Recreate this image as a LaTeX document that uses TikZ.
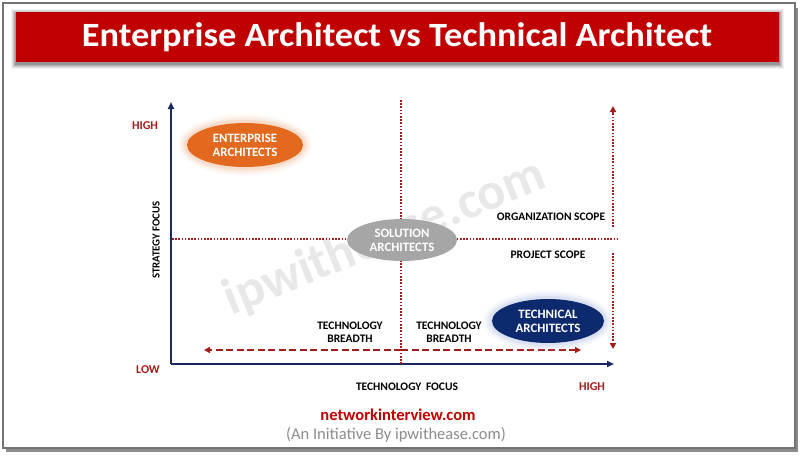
\documentclass[tikz,border=0pt]{standalone}
\usepackage{fontspec}
\setmainfont{Carlito}
\newfontfamily\titlefont{Carlito}[FakeStretch=1.07]
\usetikzlibrary{arrows.meta,shapes.geometric}
\definecolor{bannerred}{HTML}{C00000}
\definecolor{dred}{HTML}{A51C1C}
\definecolor{navy}{HTML}{1B2A5E}
\definecolor{orng}{HTML}{E2691E}
\definecolor{tnavy}{HTML}{0E2A6E}
\definecolor{sgray}{HTML}{A6A6A6}
\tikzset{
  lbl/.style={font=\bfseries\fontsize{11.5}{12.5}\selectfont, text=black, align=center, inner sep=0pt},
  axlbl/.style={font=\bfseries\fontsize{12}{13}\selectfont, text=dred, inner sep=0pt},
  axis/.style={draw=navy, line width=2pt, -{Triangle[length=7pt,width=6pt]}},
  dotline/.style={draw=dred, line width=2pt, dash pattern=on 1.6pt off 1.6pt},
  dotarrow/.style={dotline, -{Triangle[length=6pt,width=6pt]}},
  dasharrow/.style={draw=dred, line width=2pt, dash pattern=on 7pt off 3.5pt, -{Triangle[length=6pt,width=6pt]}},
  blob/.style={ellipse, inner sep=0pt, align=center, text=white, font=\bfseries\fontsize{12.8}{14}\selectfont},
}
\begin{document}
\begin{tikzpicture}[x=1pt,y=-1pt]
\useasboundingbox (0,0) rectangle (800,455);
\fill[white] (0,0) rectangle (800,455);
% outer frame with shadow
\fill[black!45] (6,8) rectangle (798,452);
\fill[white,draw=black!55,line width=1.2pt] (3,3) rectangle (795,448);
% title banner with soft shadow
\foreach \i/\o in {5/0.05,4/0.07,3/0.09,2/0.12,1/0.15}{
  \fill[black,opacity=\o] (16-\i,12-\i+2) rectangle (779+\i,62+\i+2);
}
\fill[bannerred] (16,12) rectangle (779,62);
\node[text=white, font=\titlefont\bfseries\fontsize{34}{38}\selectfont, inner sep=0pt] (title) at (397,37) {Enterprise Architect vs Technical Architect};
% watermark
\node[text=black!9, font=\bfseries\fontsize{52}{60}\selectfont, rotate=22, inner sep=0pt] (wm) at (385,238) {ipwithease.com};
% axes
\coordinate (origin) at (171,364);
\coordinate (ytop) at (171,102);
\coordinate (xright) at (614,364);
\draw[axis] (origin) -- (ytop);
\draw[axis] (origin) -- (xright);
% quadrant lines
\coordinate (vtop) at (401,100);
\coordinate (vbot) at (401,364);
\coordinate (hl) at (172,239);
\coordinate (hr) at (619,239);
\draw[dotline] (vtop) -- (vbot);
\draw[dotline] (hl) -- (hr);
% right scope arrows
\coordinate (su) at (613,227);
\coordinate (st) at (613,106);
\coordinate (sd) at (613,253);
\coordinate (sb) at (613,349);
\draw[dotarrow] (su) -- (st);
\draw[dotarrow] (sd) -- (sb);
% breadth arrows
\coordinate (bc) at (401,350);
\coordinate (bl) at (204,350);
\coordinate (br) at (581,350);
\draw[dasharrow] (bc) -- (bl);
\draw[dasharrow] (bc) -- (br);
% ellipses
\foreach \i/\o in {9/0.05,7/0.08,5/0.12,3/0.18}{
  \fill[orng!60,opacity=\o] (245,145) ellipse ({58+\i} and {22+\i});
}
\node[blob, fill=orng, minimum width=116pt, minimum height=44pt] (ea) at (245,145) {ENTERPRISE\\ARCHITECTS};
\node[blob, fill=sgray, minimum width=110pt, minimum height=42pt] (sa) at (402,240) {SOLUTION\\ARCHITECTS};
\foreach \i/\o in {9/0.06,7/0.10,5/0.15,3/0.22}{
  \fill[cyan!40!blue!30,opacity=\o] (548,321) ellipse ({56+\i} and {22+\i});
}
\node[blob, fill=tnavy, minimum width=112pt, minimum height=44pt] (ta) at (548,321) {TECHNICAL\\ARCHITECTS};
% labels
\node[axlbl] (yhigh) at (145,126) {HIGH};
\node[axlbl] (ylow) at (148,370) {LOW};
\node[axlbl] (xhigh) at (592,387) {HIGH};
\node[lbl] (xfocus) at (407,387) {TECHNOLOGY\hspace{2pt} FOCUS};
\node[lbl, font=\bfseries\fontsize{10.8}{12}\selectfont, rotate=90] (yfocus) at (156,240) {STRATEGY FOCUS};
\node[lbl] (org) at (551,217) {ORGANIZATION SCOPE};
\node[lbl] (proj) at (548,255) {PROJECT SCOPE};
\node[lbl] (tb1) at (350,332) {TECHNOLOGY\\BREADTH};
\node[lbl] (tb2) at (449,332) {TECHNOLOGY\\BREADTH};
% footer
\node[text=bannerred, font=\bfseries\fontsize{16.5}{19}\selectfont, inner sep=0pt] (site) at (398,415) {networkinterview.com};
\node[text=black!45, font=\fontsize{16.5}{19}\selectfont, inner sep=0pt] (init) at (396,435) {(An Initiative By ipwithease.com)};
\end{tikzpicture}
\end{document}
